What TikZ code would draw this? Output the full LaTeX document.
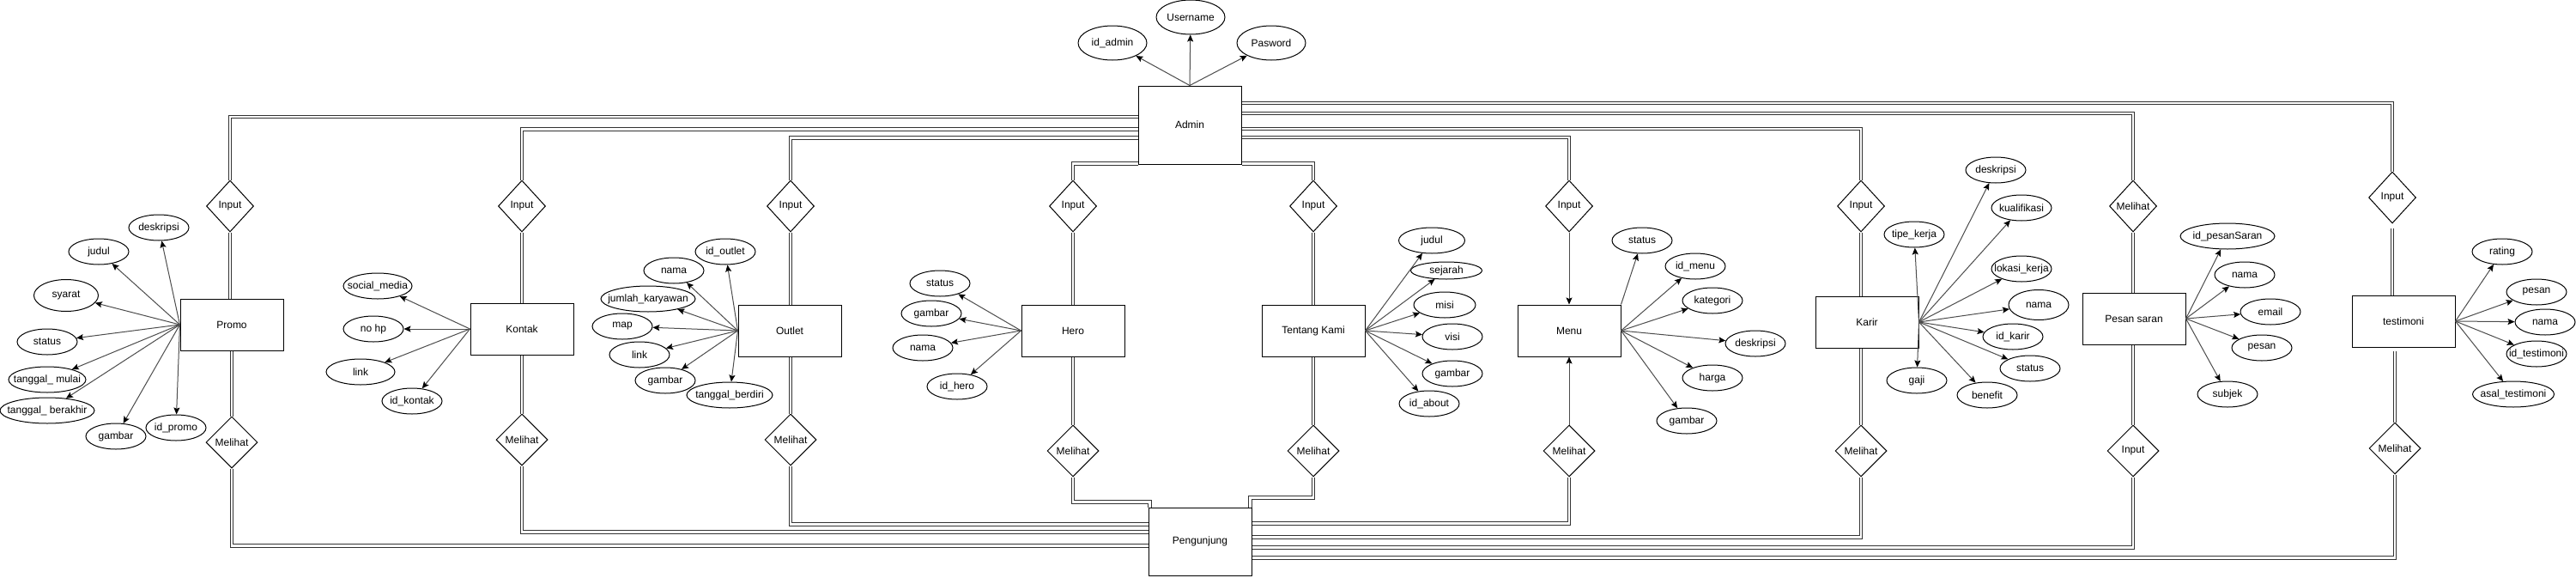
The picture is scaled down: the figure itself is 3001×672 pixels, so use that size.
\documentclass[tikz,border=0pt]{standalone}
\usepackage{fontspec}
\setmainfont{Liberation Sans}
\usetikzlibrary{shapes.geometric,arrows.meta,calc}
\newcommand\zb[1]{\makebox[0pt]{#1}}
\begin{document}
\begin{tikzpicture}[x=1pt,y=-1pt,font=\fontsize{12}{14}\selectfont,
  entbox/.style={draw=black,line width=1pt,rectangle,minimum width=120pt,minimum height=60pt,inner sep=0pt},
  relbox/.style={draw=black,line width=1pt,diamond,minimum width=55pt,minimum height=60pt,inner sep=0pt},
  relboxm/.style={relbox,minimum width=60pt},
  attrov/.style={draw=black,line width=1pt,ellipse,minimum width=70pt,minimum height=30pt,inner sep=0pt},
  dlink/.style={draw=black!80,line width=1pt,double=white,double distance=2.8pt},
  attarrow/.style={draw=black!70,line width=1pt,-{Stealth[length=8pt,width=7pt,inset=1.5pt,color=black]}}
]
\useasboundingbox (0,0) rectangle (3001,672);

% entities
\node[entbox] (promo) at (270,378) {Promo};
\node[entbox] (kontak) at (608,383) {Kontak};
\node[entbox] (outlet) at (920,385) {Outlet};
\node[entbox] (hero) at (1250,385) {Hero};
\node[entbox] (tk) at (1530,385) {Tentang Kami};
\node[entbox] (menu) at (1828,385) {Menu};
\node[entbox] (karir) at (2175,375) {Karir};
\node[entbox] (pesan) at (2486,371) {Pesan saran};
\node[entbox] (testi) at (2800,374) {testimoni};
\node[entbox,minimum height=91pt] (admin) at (1386,145.5) {Admin};
\node[entbox,minimum height=79pt] (peng) at (1398,630.5) {Pengunjung};

% relationships
\node[relbox] (promoIn) at (268,240) {Input};
\node[relboxm] (promoMe) at (270,515) {Melihat};
\node[relbox] (kontakIn) at (608,240) {Input};
\node[relboxm] (kontakMe) at (608,512) {Melihat};
\node[relbox] (outletIn) at (921,240) {Input};
\node[relboxm] (outletMe) at (921,512) {Melihat};
\node[relbox] (heroIn) at (1250,240) {Input};
\node[relboxm] (heroMe) at (1250,525) {Melihat};
\node[relbox] (tkIn) at (1530,240) {Input};
\node[relboxm] (tkMe) at (1530,525) {Melihat};
\node[relbox] (menuIn) at (1828,240) {Input};
\node[relboxm] (menuMe) at (1828,525) {Melihat};
\node[relbox] (karirIn) at (2168,240) {Input};
\node[relboxm] (karirMe) at (2168,525) {Melihat};
\node[relbox] (pesanMe) at (2485,240) {Melihat};
\node[relboxm] (pesanIn) at (2485,525) {Input};
\node[relbox] (testiIn) at (2787,230) {Input};
\node[relboxm] (testiMe) at (2790,522) {Melihat};

% links diamond - entity
\draw[dlink] (promoIn.south) -- (promoIn.south |- promo.north);
\draw[dlink] (promoMe.north |- promo.south) -- (promoMe.north);
\draw[dlink] (kontakIn.south) -- (kontakIn.south |- kontak.north);
\draw[dlink] (kontakMe.north |- kontak.south) -- (kontakMe.north);
\draw[dlink] (outletIn.south) -- (outletIn.south |- outlet.north);
\draw[dlink] (outletMe.north |- outlet.south) -- (outletMe.north);
\draw[dlink] (heroIn.south) -- (heroIn.south |- hero.north);
\draw[dlink] (heroMe.north |- hero.south) -- (heroMe.north);
\draw[dlink] (tkIn.south) -- (tkIn.south |- tk.north);
\draw[dlink] (tkMe.north |- tk.south) -- (tkMe.north);
\draw[attarrow] (menuIn.south) -- (menu.north);
\draw[attarrow] (menuMe.north) -- (menu.south);
\draw[dlink] (karirIn.south) -- (karirIn.south |- karir.north);
\draw[dlink] (karirMe.north |- karir.south) -- (karirMe.north);
\draw[dlink] (pesanMe.south) -- (pesanMe.south |- pesan.north);
\draw[dlink] (pesanIn.north |- pesan.south) -- (pesanIn.north);
\draw[dlink,shorten <=5pt] (testiIn.south) -- (testiIn.south |- testi.north);
\draw[dlink,shorten <=4pt] (testiMe.north |- testi.south) -- (testiMe.north);

% links to Admin
\draw[dlink] (promoIn.north) |- ($(admin.north west)+(0,36.5)$);
\draw[dlink] (kontakIn.north) |- ($(admin.north west)+(0,51)$);
\draw[dlink] (outletIn.north) |- ($(admin.north west)+(0,61)$);
\draw[dlink] (heroIn.north) |- ($(admin.south west)+(0,-1)$);
\draw[dlink] (tkIn.north) |- ($(admin.south east)+(0,-1)$);
\draw[dlink] (menuIn.north) |- ($(admin.north east)+(0,60.5)$);
\draw[dlink] (karirIn.north) |- ($(admin.north east)+(0,50.5)$);
\draw[dlink] (pesanMe.north) |- ($(admin.north east)+(0,32.5)$);
\draw[dlink] (testiIn.north) |- ($(admin.north east)+(0,20.5)$);

% links to Pengunjung
\draw[dlink] (promoMe.south) |- ($(peng.north west)+(0,45)$);
\draw[dlink] (kontakMe.south) |- ($(peng.north west)+(0,29)$);
\draw[dlink] (outletMe.south) |- ($(peng.north west)+(0,20)$);
\draw[dlink] (heroMe.south) |- ($(peng.north west)+(2,-6)$) -- ($(peng.north west)+(2,0)$);
\draw[dlink] (tkMe.south) |- ($(peng.north east)+(-2,-11)$) -- ($(peng.north east)+(-2,0)$);
\draw[dlink] (menuMe.south) |- ($(peng.north east)+(0,19)$);
\draw[dlink] (karirMe.south) |- ($(peng.north east)+(0,35)$);
\draw[dlink] (pesanIn.south) |- ($(peng.north east)+(0,47)$);
\draw[dlink] (testiMe.south) |- ($(peng.north east)+(0,59)$);

% Admin attributes
\node[attrov,minimum width=80pt,minimum height=40pt] (a1) at (1296,50) {\zb{id\_admin}};
\node[attrov,minimum width=80pt,minimum height=40pt] (a2) at (1387,20) {\zb{Username}};
\node[attrov,minimum width=80pt,minimum height=40pt] (a3) at (1481,50) {\zb{Pasword}};
\foreach \a in {a1,a2,a3} \draw[attarrow] (admin.north) -- (\a);

% Promo attributes
\node[attrov] (p1) at (185,265) {\zb{deskripsi}};
\node[attrov] (p2) at (115,293) {\zb{judul}};
\node[attrov,minimum width=75pt,minimum height=37pt] (p3) at (77,344) {\zb{syarat}};
\node[attrov] (p4) at (55,398) {\zb{status}};
\node[attrov,minimum width=90pt] (p5) at (55,442) {\zb{tanggal\_ mulai}};
\node[attrov,minimum width=110pt] (p6) at (55,478) {\zb{tanggal\_ berakhir}};
\node[attrov] (p7) at (135,508) {\zb{gambar}};
\node[attrov] (p8) at (205,498) {\zb{id\_promo}};
\foreach \a in {p1,p2,p3,p4,p5,p6,p7,p8} \draw[attarrow] (promo.west) -- (\a);

% Kontak attributes
\node[attrov,minimum width=80pt] (k1) at (440,333) {\zb{social\_media}};
\node[attrov] (k2) at (435,383) {\zb{no hp}};
\node[attrov,minimum width=80pt] (k3) at (420,433) {\zb{link}};
\node[attrov] (k4) at (480,467) {\zb{id\_kontak}};
\foreach \a in {k1,k2,k3,k4} \draw[attarrow] (kontak.west) -- (\a);

% Outlet attributes
\node[attrov] (o1) at (845,293) {\zb{id\_outlet}};
\node[attrov] (o2) at (785,315) {\zb{nama}};
\node[attrov,minimum width=110pt] (o3) at (755,348) {\zb{jumlah\_karyawan}};
\node[attrov] (o4) at (725,380) {\zb{map}};
\node[attrov] (o5) at (745,413) {\zb{link}};
\node[attrov] (o6) at (775,443) {\zb{gambar}};
\node[attrov,minimum width=100pt] (o7) at (850,460) {\zb{tanggal\_berdiri}};
\foreach \a in {o1,o2,o3,o4,o5,o6,o7} \draw[attarrow] (outlet.west) -- (\a);

% Hero attributes
\node[attrov] (h1) at (1095,330) {\zb{status}};
\node[attrov] (h2) at (1085,365) {\zb{gambar}};
\node[attrov] (h3) at (1075,405) {\zb{nama}};
\node[attrov] (h4) at (1115,450) {\zb{id\_hero}};
\foreach \a in {h1,h2,h3,h4} \draw[attarrow] (hero.west) -- (\a);

% Tentang Kami attributes
\node[attrov,minimum width=77pt] (t1) at (1668,280) {\zb{judul}};
\node[attrov,minimum width=83pt,minimum height=20pt] (t2) at (1685,315) {\zb{sejarah}};
\node[attrov,minimum width=72pt] (t3) at (1683,355) {\zb{misi}};
\node[attrov] (t4) at (1692,392) {\zb{visi}};
\node[attrov] (t5) at (1692,435) {\zb{gambar}};
\node[attrov] (t6) at (1665,470) {\zb{id\_about}};
\foreach \a in {t1,t2,t3,t4,t5,t6} \draw[attarrow] (tk.east) -- (\a);

% Menu attributes
\node[attrov] (m1) at (1913,280) {\zb{status}};
\node[attrov] (m2) at (1975,310) {\zb{id\_menu}};
\node[attrov] (m3) at (1995,350) {\zb{kategori}};
\node[attrov] (m4) at (2045,400) {\zb{deskripsi}};
\node[attrov] (m5) at (1995,440) {\zb{harga}};
\node[attrov] (m6) at (1965,490) {\zb{gambar}};
\draw[attarrow] (menu.north east) -- (m1);
\foreach \a in {m2,m3,m4,m5,m6} \draw[attarrow] (menu.east) -- (\a);

% Karir attributes
\node[attrov] (c1) at (2325,198) {\zb{deskripsi}};
\node[attrov] (c2) at (2355,242) {\zb{kualifikasi}};
\node[attrov] (c3) at (2230,273) {\zb{tipe\_kerja}};
\node[attrov] (c4) at (2355,313) {\zb{lokasi\_kerja}};
\node[attrov,minimum height=35pt] (c5) at (2375,355) {\zb{nama}};
\node[attrov] (c6) at (2345,392) {\zb{id\_karir}};
\node[attrov] (c7) at (2365,429) {\zb{status}};
\node[attrov] (c8) at (2315,460) {\zb{benefit}};
\node[attrov] (c9) at (2233,443) {\zb{gaji}};
\foreach \a in {c1,c2,c3,c4,c5,c6,c7,c8,c9} \draw[attarrow] (karir.east) -- (\a);

% Pesan saran attributes
\node[attrov,minimum width=110pt] (s1) at (2595,275) {\zb{id\_pesanSaran}};
\node[attrov] (s2) at (2615,320) {\zb{nama}};
\node[attrov] (s3) at (2645,363) {\zb{email}};
\node[attrov] (s4) at (2635,405) {\zb{pesan}};
\node[attrov] (s5) at (2595,459) {\zb{subjek}};
\foreach \a in {s1,s2,s3,s4,s5} \draw[attarrow] (pesan.east) -- (\a);

% testimoni attributes
\node[attrov] (r1) at (2915,293) {\zb{rating}};
\node[attrov] (r2) at (2955,340) {\zb{pesan}};
\node[attrov] (r3) at (2965,375) {\zb{nama}};
\node[attrov] (r4) at (2955,412) {\zb{id\_testimoni}};
\node[attrov,minimum width=95pt] (r5) at (2928,459) {\zb{asal\_testimoni}};
\foreach \a in {r1,r2,r3,r4,r5} \draw[attarrow] (testi.east) -- (\a);
\end{tikzpicture}
\end{document}
